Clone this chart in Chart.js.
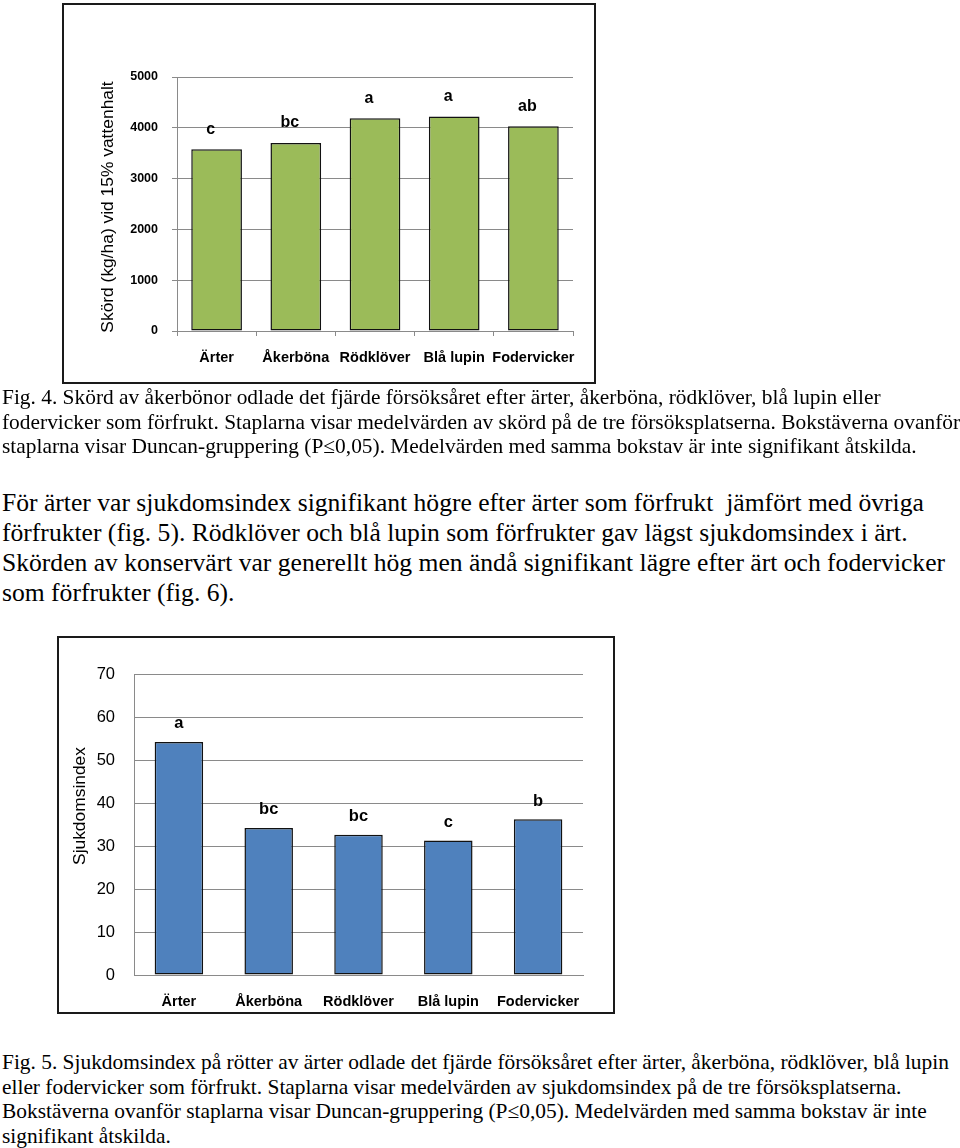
<!DOCTYPE html>
<html lang="sv">
<head>
<meta charset="utf-8">
<title>Skörd och sjukdomsindex</title>
<script src="https://cdn.jsdelivr.net/npm/chart.js@4.4.1/dist/chart.umd.min.js"></script>
<style>
  html, body { margin: 0; padding: 0; background: #fff; }
  body { width: 960px; height: 1148px; position: relative; overflow: hidden; }
  canvas { position: absolute; left: 0; }
  .box { position: absolute; border: 2px solid #1a1a1a; box-sizing: border-box; pointer-events: none; }
  .txt { position: absolute; left: 2px; white-space: nowrap; color: #000; font-family: "Liberation Serif", "Times New Roman", serif; }
  .cap { font-size: 21.4px; line-height: 24.5px; }
  .body { font-size: 25.6px; line-height: 30px; }
</style>
</head>
<body>
<canvas id="skordChart" width="600" height="390" style="top:0"></canvas>
<div class="box" style="left:62px; top:3px; width:534px; height:381px"></div>

<div class="txt cap" style="top:385px">
Fig. 4. Skörd av åkerbönor odlade det fjärde försöksåret efter ärter, åkerböna, rödklöver, blå lupin eller<br>
fodervicker som förfrukt. Staplarna visar medelvärden av skörd på de tre försöksplatserna. Bokstäverna ovanför<br>
staplarna visar Duncan-gruppering (P≤0,05). Medelvärden med samma bokstav är inte signifikant åtskilda.
</div>

<div class="txt body" style="top:488px">
För ärter var sjukdomsindex signifikant högre efter ärter som förfrukt&nbsp; jämfört med övriga<br>
förfrukter (fig. 5). Rödklöver och blå lupin som förfrukter gav lägst sjukdomsindex i ärt.<br>
Skörden av konservärt var generellt hög men ändå signifikant lägre efter ärt och fodervicker<br>
som förfrukter (fig. 6).
</div>

<canvas id="sjukdomChart" width="620" height="390" style="top:630px"></canvas>
<div class="box" style="left:57px; top:636px; width:558px; height:378px"></div>

<div class="txt cap" style="top:1050px">
Fig. 5. Sjukdomsindex på rötter av ärter odlade det fjärde försöksåret efter ärter, åkerböna, rödklöver, blå lupin<br>
eller fodervicker som förfrukt. Staplarna visar medelvärden av sjukdomsindex på de tre försöksplatserna.<br>
Bokstäverna ovanför staplarna visar Duncan-gruppering (P≤0,05). Medelvärden med samma bokstav är inte<br>
signifikant åtskilda.
</div>

<script>
// Förfrukter (kategorier) - samma i båda diagrammen
const categories = ['Ärter', 'Åkerböna', 'Rödklöver', 'Blå lupin', 'Fodervicker'];

// Fig. 4: skörd av åkerbönor (kg/ha vid 15% vattenhalt)
const skordValues = [3580, 3700, 4190, 4220, 4030];
const skordLetters = ['c', 'bc', 'a', 'a', 'ab'];

// Fig. 5: sjukdomsindex på rötter av ärter
const sjukdomValues = [54.2, 34.2, 32.6, 31.3, 36.2];
const sjukdomLetters = ['a', 'bc', 'bc', 'c', 'b'];

const sans = '"Liberation Sans", Arial, sans-serif';
const gridGray = '#8a8a8a';

// Ritar Duncan-bokstäverna ovanför staplarna
const letterPlugin = {
    id: 'duncanLetters',
    afterDatasetsDraw(chart, args, opts) {
        const ctx = chart.ctx;
        const meta = chart.getDatasetMeta(0);
        ctx.save();
        ctx.font = opts.font;
        ctx.fillStyle = '#000';
        ctx.textAlign = 'center';
        ctx.textBaseline = 'middle';
        meta.data.forEach((bar, i) => {
            ctx.fillText(opts.letters[i], bar.x + (opts.dx || 0), bar.y - opts.offset);
        });
        ctx.restore();
    }
};

// Axeltitel (roterad) ritas själv för att kunna placeras fritt
const axisTitlePlugin = {
    id: 'yTitle',
    afterDraw(chart, args, opts) {
        const ctx = chart.ctx;
        ctx.save();
        ctx.translate(opts.x, opts.y);
        ctx.rotate(-Math.PI / 2);
        ctx.font = opts.font;
        ctx.fillStyle = '#000';
        ctx.textAlign = 'center';
        ctx.textBaseline = 'middle';
        ctx.fillText(opts.text, 0, 0);
        ctx.restore();
    }
};

Chart.register(letterPlugin, axisTitlePlugin);

// Fig. 4
new Chart(document.getElementById('skordChart'), {
    type: 'bar',
    data: {
        labels: categories,
        datasets: [{
            data: skordValues,
            backgroundColor: '#9bbb59',
            borderColor: '#111',
            borderWidth: 1.5,
            borderSkipped: false,
            barPercentage: 0.64,
            categoryPercentage: 1
        }]
    },
    options: {
        responsive: false,
        animation: false,
        layout: { padding: { left: 0, top: 77, right: 27, bottom: 0 } },
        plugins: {
            legend: { display: false },
            tooltip: { enabled: false },
            duncanLetters: { letters: skordLetters, offset: 20, dx: -6, font: 'bold 16px ' + sans },
            yTitle: { text: 'Skörd (kg/ha) vid 15% vattenhalt', x: 108, y: 207, font: '17.4px ' + sans }
        },
        scales: {
            y: {
                min: 0,
                max: 5000,
                afterFit: (scale) => { scale.width = 177; },
                ticks: {
                    stepSize: 1000,
                    padding: 14,
                    color: '#000',
                    font: { family: sans, size: 12.5, weight: 'bold' },
                    callback: (value) => String(value)
                },
                border: { display: true, color: gridGray, width: 1 },
                grid: { color: gridGray, lineWidth: 1, drawTicks: true, tickLength: 5 }
            },
            x: {
                afterFit: (scale) => { scale.height = 59; },
                ticks: {
                    padding: 13,
                    color: '#000',
                    autoSkip: false,
                    maxRotation: 0,
                    minRotation: 0,
                    font: { family: sans, size: 14.5, weight: 'bold' }
                },
                border: { display: true, color: gridGray, width: 1 },
                grid: { drawOnChartArea: false, drawTicks: true, tickLength: 5, color: gridGray }
            }
        }
    }
});

// Fig. 5
new Chart(document.getElementById('sjukdomChart'), {
    type: 'bar',
    data: {
        labels: categories,
        datasets: [{
            data: sjukdomValues,
            backgroundColor: '#4f81bd',
            borderColor: '#111',
            borderWidth: 1.5,
            borderSkipped: false,
            barPercentage: 0.54,
            categoryPercentage: 1
        }]
    },
    options: {
        responsive: false,
        animation: false,
        layout: { padding: { left: 0, top: 44, right: 37, bottom: 0 } },
        plugins: {
            legend: { display: false },
            tooltip: { enabled: false },
            duncanLetters: { letters: sjukdomLetters, offset: 18, dx: 0, font: 'bold 16.5px ' + sans },
            yTitle: { text: 'Sjukdomsindex', x: 80, y: 176, font: '17.4px ' + sans }
        },
        scales: {
            y: {
                min: 0,
                max: 70,
                afterFit: (scale) => { scale.width = 134; },
                ticks: {
                    stepSize: 10,
                    padding: 19,
                    color: '#000',
                    font: { family: sans, size: 16.5 },
                    callback: (value) => String(value)
                },
                border: { display: true, color: gridGray, width: 1 },
                grid: { color: gridGray, lineWidth: 1, drawTicks: false }
            },
            x: {
                afterFit: (scale) => { scale.height = 45; },
                ticks: {
                    padding: 10,
                    color: '#000',
                    autoSkip: false,
                    maxRotation: 0,
                    minRotation: 0,
                    font: { family: sans, size: 14.5, weight: 'bold' }
                },
                border: { display: true, color: gridGray, width: 1 },
                grid: { display: false }
            }
        }
    }
});
</script>
</body>
</html>
